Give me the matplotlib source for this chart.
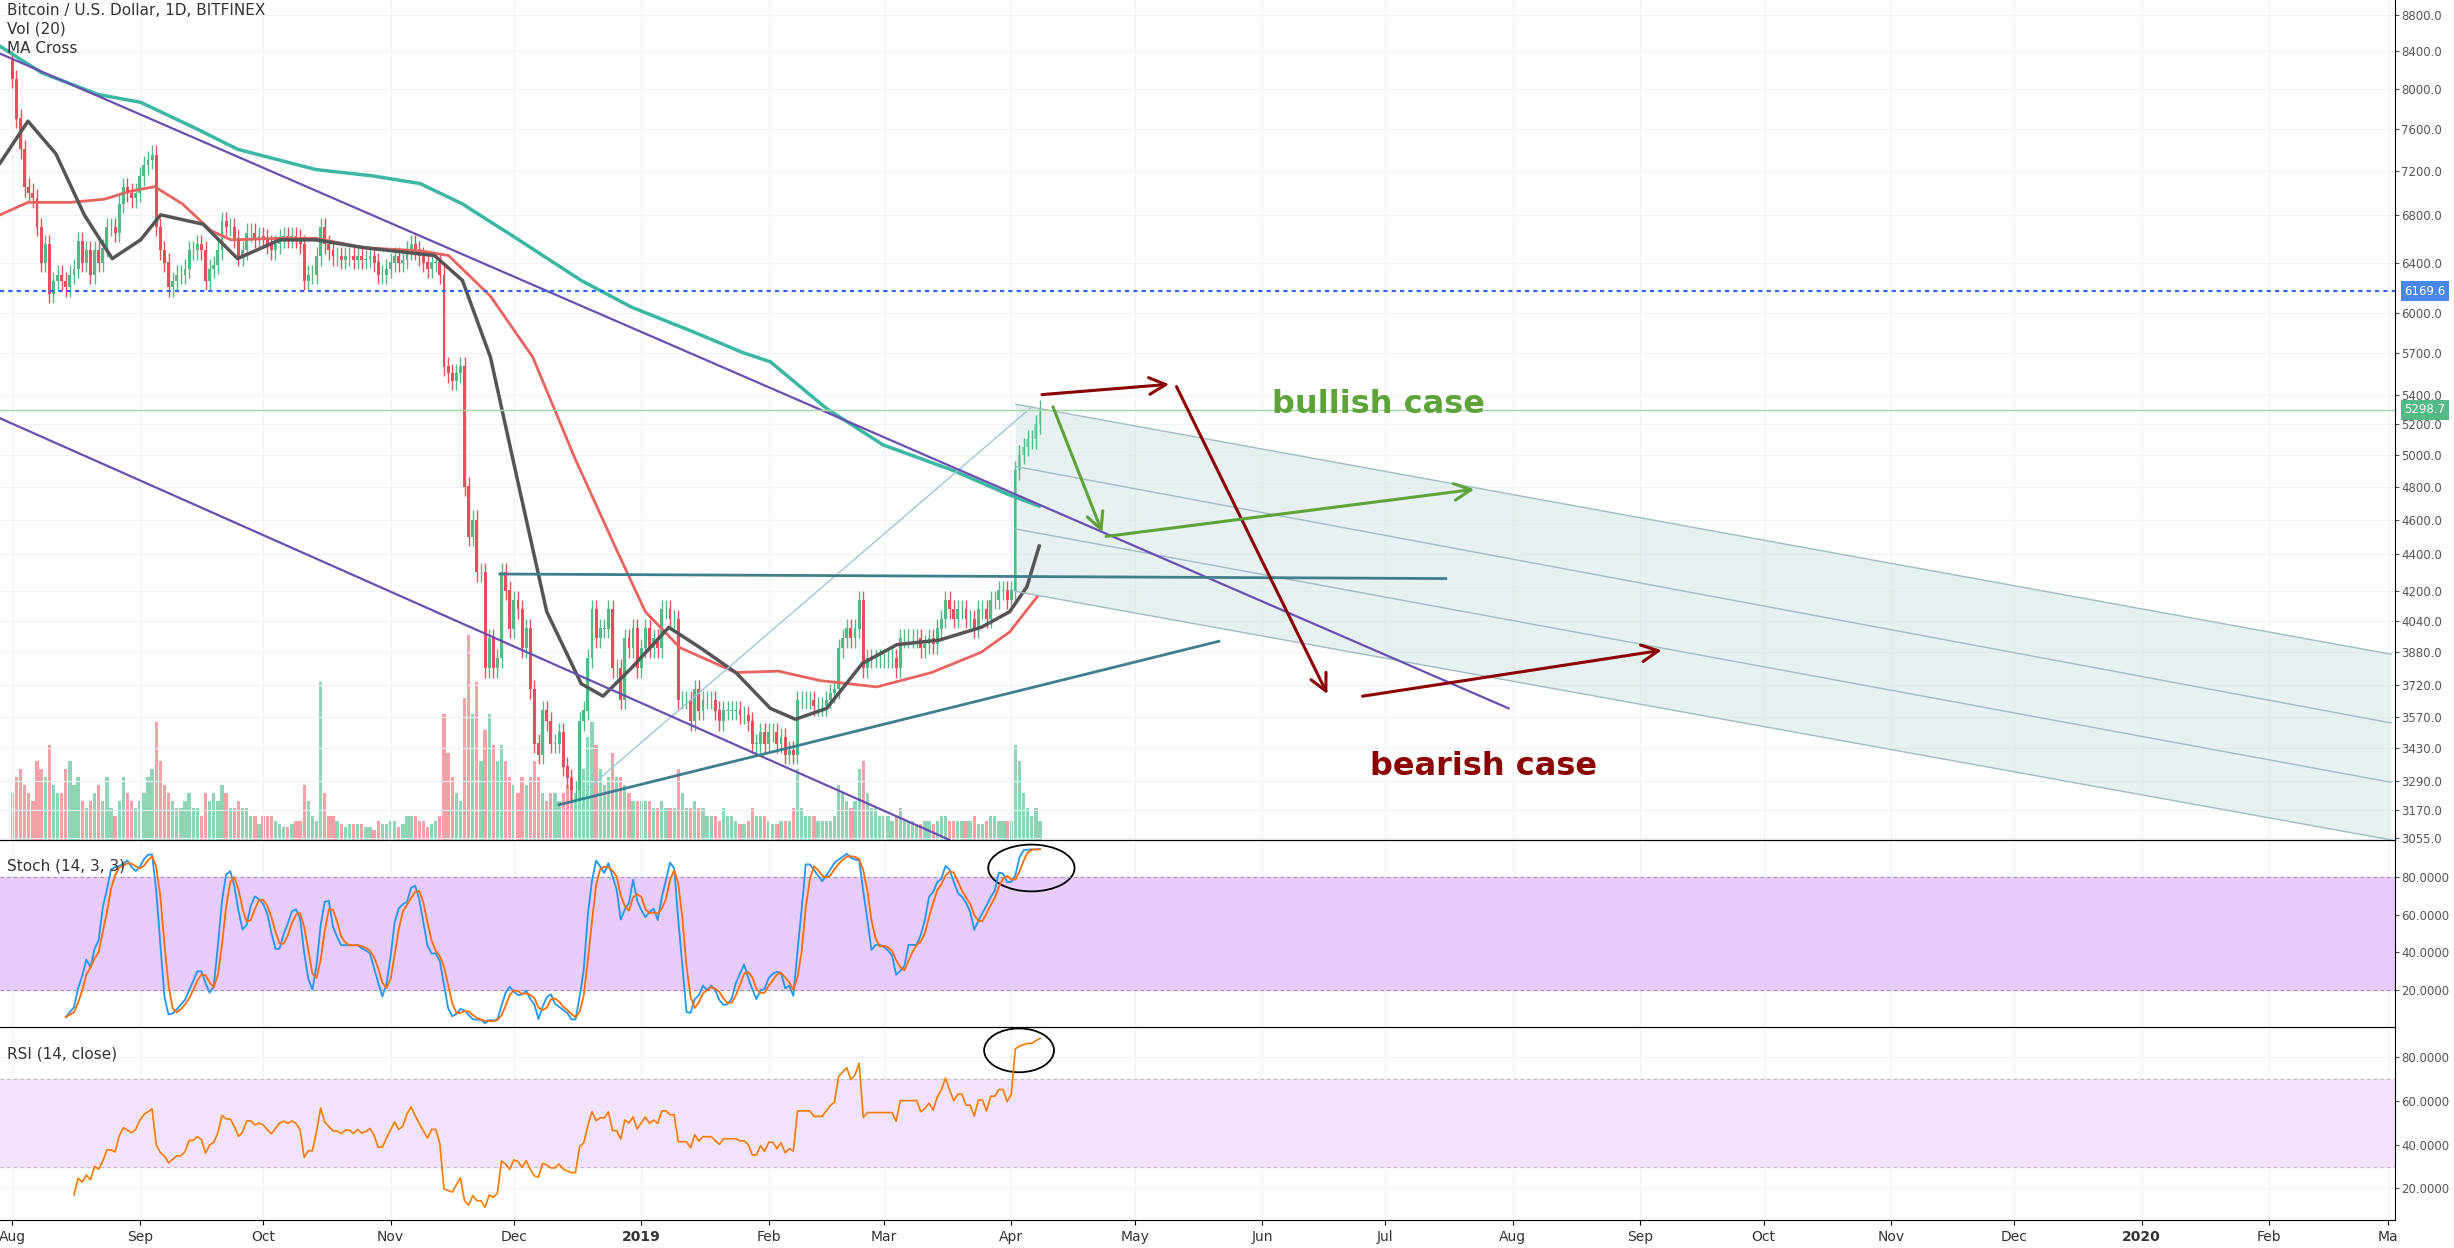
import numpy as np
import matplotlib
matplotlib.use("Agg")
import matplotlib.pyplot as plt
from matplotlib.patches import Ellipse, Polygon
from matplotlib.ticker import FixedLocator, NullLocator
import matplotlib.transforms as mtrans

# ---- data (day index from 2018-08-01) ----
closes = [
8100,7700,7400,7050,7000,6950,6700, 6400,6550,6150,6250,6300,6250,6200,
6300,6350,6580,6400,6500,6300,6500, 6400,6520,6700,6700,6650,6900,7050,
7000,6950,7000,7150,7250,7300,7350, 6700,6500,6400,6200,6250,6300,6300,
6350,6500,6500,6550,6500,6250,6350, 6380,6500,6750,6700,6700,6600,6450,
6500,6650,6650,6600,6620,6600,6550, 6500,6550,6600,6620,6600,6620,6600,
6550,6250,6300,6300,6450,6700,6550, 6500,6450,6450,6420,6450,6450,6420,
6450,6420,6430,6450,6400,6300,6300, 6350,6400,6450,6400,6420,6500,6550,
6500,6450,6400,6350,6400,6400,6300, 5600,5550,5500,5550,5600,4800,4500,
4600,4300,4300,3800,3950,3800,3850, 4300,4200,4000,4150,4100,3900,4000,
3700,3450,3400,3600,3550,3450,3450, 3500,3350,3300,3250,3250,3550,3600,
3850,4100,3950,4000,4000,4100,3800, 3800,3650,3950,3900,4000,3800,3900,
4000,3900,3950,3900,4100,4100,4050, 4050,3650,3650,3650,3550,3700,3600,
3650,3650,3650,3600,3550,3600,3600, 3600,3600,3580,3580,3550,3450,3450,
3500,3450,3500,3500,3450,3480,3400, 3420,3400,3650,3650,3650,3650,3620,
3620,3620,3650,3680,3700,3900,3950, 4000,3950,4000,4150,3800,3850,3850,
3850,3850,3850,3850,3850,3800,3950, 3950,3950,3950,3950,3900,3920,3950,
3920,4000,4050,4150,4100,4050,4100, 4100,4050,4050,4000,4100,4100,4050,
4150,4150,4200,4200,4150,4200,4900, 5000,5050,5100,5100,5200,5300]
first_open = 8300
volumes = [
30,40,45,35,30,25,50, 45,40,60,35,30,30,45, 50,35,40,25,20,25,30, 35,25,40,20,15,25,40,
30,25,20,25,30,40,45, 75,50,35,30,25,20,20, 25,30,20,20,15,30,25, 30,25,35,30,20,20,25,
20,20,15,15,10,15,15, 15,12,10,8,8,10,12, 12,35,25,15,12,100,30, 15,15,12,10,8,10,10,
10,10,8,8,6,12,10, 10,12,12,8,10,15,15, 15,12,12,8,10,12,15, 80,55,40,30,25,90,130,
80,100,50,70,80,60,50, 60,50,40,35,30,40,35, 40,50,40,30,25,30,30, 25,30,35,40,30,55,45,
65,75,60,45,35,40,55, 40,40,35,30,25,25,25, 25,25,20,20,25,20,20, 20,45,30,20,20,25,20,
20,15,15,15,12,20,15, 15,12,10,10,12,20,15, 15,15,12,10,10,12,12, 12,20,45,20,15,15,15,
12,12,12,12,15,35,30, 25,20,25,45,50,30,20, 20,15,15,15,12,15,20, 12,12,12,10,10,12,12,
10,12,15,15,12,12,12, 12,12,12,15,10,10,12, 15,15,12,12,12,12,60, 50,30,20,15,20,12]

ma_black_days = [-3.0, 3.8, 10.6, 17.5, 24.3, 31.2, 36.1, 46.4, 54.8, 65.0, 73.8, 85.6, 102.7, 109.5, 116.3,
                 123.2, 130.0, 138.4, 143.7, 150.6, 159.7, 167.3, 176.0, 184.4, 190.5, 198.1, 206.8, 215.2,
                 225.5, 235.7, 242.6, 246.8, 249.8]
ma_black = [7271, 7674, 7359, 6804, 6432, 6589, 6804, 6723, 6432, 6589, 6589, 6523, 6458, 6254, 5668,
            4804, 4087, 3726, 3667, 3802, 4006, 3903, 3780, 3610, 3560, 3610, 3825, 3918,
            3941, 4006, 4087, 4220, 4447]
ma_red_days = [-3.0, 3.8, 14.1, 22.4, 28.5, 34.6, 41.4, 48.3, 53.2, 65.0, 73.8, 85.6, 99.2, 106.1, 116.3,
               126.6, 136.9, 147.1, 154.0, 162.4, 176.0, 186.3, 196.6, 210.3, 223.6, 235.7, 242.6, 249.4]
ma_red = [6804, 6914, 6914, 6942, 7012, 7055, 6900, 6668, 6589, 6602, 6602, 6523, 6497, 6458, 6130,
          5668, 4975, 4420, 4087, 3903, 3780, 3787, 3741, 3711, 3780, 3880, 3982, 4169]
ma_teal_days = [-3.0, 7.2, 20.9, 31.2, 44.9, 54.8, 73.8, 87.5, 99.2, 109.5, 123.2, 138.4, 150.6, 165.8,
                177.6, 184.4, 198.1, 211.8, 228.9, 242.6, 249.8]
ma_teal = [8449, 8165, 7941, 7862, 7598, 7402, 7212, 7154, 7083, 6900, 6589, 6254, 6044, 5853,
           5702, 5634, 5305, 5064, 4900, 4748, 4681]

right_ticks = [8800,8400,8000,7600,7200,6800,6400,6000,5700,5400,5200,5000,4800,4600,4400,4200,4040,3880,3720,3570,3430,3290,3170,3055]
month_days = [0,31,61,92,122,153,184,212,243,273,304,334,365,396,426,457,487,518,549,578]
month_labels = ["Aug","Sep","Oct","Nov","Dec","2019","Feb","Mar","Apr","May","Jun","Jul","Aug","Sep","Oct","Nov","Dec","2020","Feb","Ma"]

# drawings (day, price)
upper_trend = ([-3, 364], [8370, 3610])
lower_trend = ([-3, 228], [5240, 3049])
flat_line = ([118.6, 348.7], [4290, 4265])
rising_line = ([133, 293.5], [3190, 3935])
thin_diag = ([139.5, 247.9], [3250, 5314])
fork_start = [5335, 4925, 4545, 4195]
fork_end = [3870, 3543, 3283, 3049]
fork_days = [244.1, 578.7]
red_arrows = [((249.8, 5400), (282.1, 5475)), ((282.9, 5475), (320.2, 3665)), ((327.8, 3665), (401.9, 3892))]
green_arrows = [((252.9, 5335), (265.4, 4510)), ((265.4, 4500), (356.3, 4785))]
level_blue = 6169.6
level_green = 5298.7

# ---- computations ----
n = min(len(closes), len(volumes))
c = np.array(closes[:n], float)
o = np.concatenate([[first_open], c[:-1]])
h = np.maximum(o, c) * 1.012
l = np.minimum(o, c) * 0.988
v = np.array(volumes[:n], float)
d = np.arange(n)
up = c >= o

def sma(x, w):
    out = np.full(len(x), np.nan)
    for i in range(w - 1, len(x)):
        out[i] = np.nanmean(x[i - w + 1:i + 1])
    return out

kraw = np.full(n, np.nan)
for i in range(13, n):
    hh, ll = h[i-13:i+1].max(), l[i-13:i+1].min()
    kraw[i] = (c[i] - ll) / (hh - ll) * 100
k = sma(kraw, 3)
dline = sma(k, 3)

delta = np.diff(c, prepend=c[0])
gain = np.where(delta > 0, delta, 0); loss = np.where(delta < 0, -delta, 0)
rsi = np.full(n, np.nan)
ag, al = gain[1:15].mean(), loss[1:15].mean()
for i in range(15, n):
    ag = (ag * 13 + gain[i]) / 14; al = (al * 13 + loss[i]) / 14
    rsi[i] = 100 - 100 / (1 + ag / al)

# ---- figure ----
fig = plt.figure(figsize=(24.54, 12.48), dpi=100)
W = 1530 / 1568
ax = fig.add_axes([0, 0.327, W, 0.673])
axs = fig.add_axes([0, 0.177, W, 0.150], sharex=ax)
axr = fig.add_axes([0, 0.0226, W, 0.1544], sharex=ax)
GREEN, RED = "#53b987", "#eb4d5c"
GRID = "#eef3f6"
TICKC = "#555555"

axv = ax.twinx()
axv.bar(d, v, width=0.8, color=np.where(up, "#8fd4b5", "#f3a1a6"), zorder=0)
axv.set_ylim(0, v.max() * 4.1)
axv.axis("off")
ax.set_zorder(axv.get_zorder() + 1); ax.patch.set_visible(False)

ax.set_yscale("log")
ax.vlines(d, l, h, color=np.where(up, GREEN, RED), lw=1)
ax.bar(d, np.abs(c - o) + 1, bottom=np.minimum(o, c), width=0.7, color=np.where(up, GREEN, RED))
ax.plot(ma_teal_days, ma_teal, color="#3cb7a4", lw=2.5, solid_joinstyle="round")
ax.plot(ma_red_days, ma_red, color="#e8635f", lw=2, solid_joinstyle="round")
ax.plot(ma_black_days, ma_black, color="#555555", lw=2.5, solid_joinstyle="round")

poly = Polygon([(fork_days[0], fork_start[0]), (fork_days[1], fork_end[0]), (fork_days[1], fork_end[-1]),
                (fork_days[0], fork_start[-1])], closed=True, color="#d6e6e6", alpha=0.55, lw=0)
ax.add_patch(poly)
for s, e in zip(fork_start, fork_end):
    ax.plot(fork_days, [s, e], color="#9fbcc4", lw=1)
ax.plot(*thin_diag, color="#9fc4dc", lw=1)
ax.plot(*upper_trend, color="#6a4fb0", lw=1.6)
ax.plot(*lower_trend, color="#6a4fb0", lw=1.6)
ax.plot(*flat_line, color="#3f7f8c", lw=2)
ax.plot(*rising_line, color="#3f7f8c", lw=2)
for (a, b) in red_arrows:
    ax.annotate("", xy=b, xytext=a, arrowprops=dict(arrowstyle="->", color="#8b0000", lw=2.2, mutation_scale=30))
for (a, b) in green_arrows:
    ax.annotate("", xy=b, xytext=a, arrowprops=dict(arrowstyle="->", color="#5ea23a", lw=2.2, mutation_scale=30))
ax.text(332.3, 5335, "bullish case", color="#5ea23a", fontsize=23, fontweight="bold", ha="center", va="center")
ax.text(357.8, 3350, "bearish case", color="#8b0000", fontsize=23, fontweight="bold", ha="center", va="center")

ax.axhline(level_blue, color="#2962ff", lw=1.5, ls=(0, (2, 2)))
ax.axhline(level_green, color="#a5d6a7", lw=1)
tr = mtrans.blended_transform_factory(ax.transAxes, ax.transData)
ax.text(1.004, level_blue, f"{level_blue:.1f}", transform=tr, color="white", fontsize=8.5, va="center",
        bbox=dict(boxstyle="square,pad=0.3", fc="#4a86e8", ec="none"))
ax.text(1.004, level_green, f"{level_green:.1f}", transform=tr, color="white", fontsize=8.5, va="center",
        bbox=dict(boxstyle="square,pad=0.3", fc="#53b987", ec="none"))

ax.set_ylim(3049, 8966)
ax.set_xlim(-3, 579.5)
ax.yaxis.tick_right()
ax.yaxis.set_major_locator(FixedLocator(right_ticks))
ax.yaxis.set_minor_locator(NullLocator())
ax.set_yticklabels([f"{t:.1f}" for t in right_ticks], fontsize=8.5, color=TICKC)
ax.text(0.003, 0.997, "Bitcoin / U.S. Dollar, 1D, BITFINEX\nVol (20)\nMA Cross", transform=ax.transAxes,
        fontsize=11, va="top", color="#333333", linespacing=1.35)

axs.axhspan(20, 80, color="#e8ccfb")
for yv in (20, 80):
    axs.axhline(yv, color="#999999", lw=0.8, ls=(0, (3, 3)))
axs.plot(d, k, color="#2196f3", lw=1.3)
axs.plot(d, dline, color="#ff6d00", lw=1.3)
axs.add_patch(Ellipse((247.9, 85), 21, 25, fill=False, ec="black", lw=1.3))
axs.set_ylim(0, 100)
axs.yaxis.tick_right()
axs.set_yticks([80, 60, 40, 20])
axs.set_yticklabels(["80.0000", "60.0000", "40.0000", "20.0000"], fontsize=8.5, color=TICKC)
axs.text(0.003, 0.9, "Stoch (14, 3, 3)", transform=axs.transAxes, fontsize=11, va="top", color="#333333")

axr.axhspan(30, 70, color="#f3e3fc")
for yv in (30, 70):
    axr.axhline(yv, color="#bbbbbb", lw=0.8, ls=(0, (3, 3)))
axr.plot(d, rsi, color="#f57c00", lw=1.2)
axr.add_patch(Ellipse((244.9, 83), 17, 20, fill=False, ec="black", lw=1.3))
axr.set_ylim(5.7, 93.6)
axr.yaxis.tick_right()
axr.set_yticks([80, 60, 40, 20])
axr.set_yticklabels(["80.0000", "60.0000", "40.0000", "20.0000"], fontsize=8.5, color=TICKC)
axr.text(0.003, 0.9, "RSI (14, close)", transform=axr.transAxes, fontsize=11, va="top", color="#333333")

axr.set_xticks(month_days)
axr.set_xticklabels(month_labels, fontsize=10, color="#333333")
for lab in axr.get_xticklabels():
    if lab.get_text() in ("2019", "2020"):
        lab.set_fontweight("bold")
for a in (ax, axs):
    a.tick_params(axis="x", which="both", bottom=False, labelbottom=False)
for a in (ax, axs, axr):
    a.grid(True, color=GRID, lw=0.8, zorder=-5)
    a.set_axisbelow(True)
    a.spines["left"].set_visible(False)
    a.spines["top"].set_visible(a is not ax)
    a.tick_params(axis="y", length=3, pad=2, colors=TICKC)
    a.set_facecolor("none")

fig.savefig("out.png", dpi=100)
